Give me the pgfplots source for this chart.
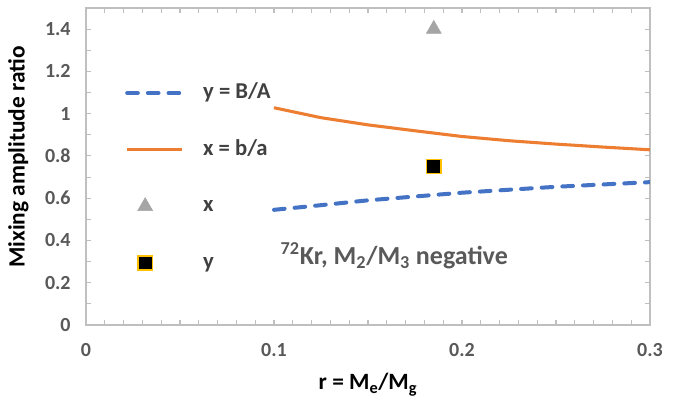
\documentclass[border=0pt]{standalone}
\usepackage{pgfplots}
\pgfplotsset{compat=1.18}
\usepackage{fontspec}
\setmainfont{Carlito}
\definecolor{xorange}{HTML}{ED7D31}
\definecolor{yblue}{HTML}{4472C4}
\definecolor{mgray}{HTML}{A5A5A5}
\definecolor{frame}{HTML}{BFBFBF}
\definecolor{tick}{HTML}{595959}
\definecolor{legtxt}{HTML}{404040}
\definecolor{gold}{HTML}{FFC000}
\pgfplotsset{
  lineleg/.style={legend image code/.code={%
      \draw[##1, mark=none] (0pt,0pt) -- (41pt,0pt);
      \path[draw=none, fill=none] (0pt,0pt) -- (57pt,0pt);}},
  markleg/.style={legend image code/.code={%
      \path[draw=none, fill=none] (0pt,0pt) -- (57pt,0pt);
      \draw[##1] plot coordinates {(13.5pt,0pt)};}},
}
\begin{document}
\begin{tikzpicture}
\useasboundingbox (-64.5pt,-60.75pt) rectangle (450pt,243.75pt);
\begin{axis}[
    scale only axis, width=423pt, height=237.75pt,
    xmin=0, xmax=0.3, ymin=0, ymax=1.5,
    xtick={0,0.1,0.2,0.3}, ytick={0,0.2,...,1.4},
    minor x tick num=9, minor y tick num=1,
    tick align=inside, major tick length=4pt, minor tick length=4pt,
    tick style={frame, line width=0.8pt},
    axis line style={frame, line width=1.5pt},
    /pgf/number format/assume math mode=true,
    ticklabel style={font=\fontsize{15}{17}\selectfont\bfseries, text=tick},
    yticklabel style={xshift=-8pt},
    xticklabel style={yshift=-10pt},
    xlabel={r = M\textsubscript{e}/M\textsubscript{g}},
    ylabel={Mixing amplitude ratio},
    label style={font=\fontsize{17.5}{19}\selectfont\bfseries, text=black},
    xlabel style={at={(axis description cs:0.5,-0.189)}, anchor=center},
    ylabel style={at={(axis description cs:-0.12,0.53)}, anchor=center},
    legend style={at={(axis description cs:0.069,0.762)}, anchor=north west,
        draw=none, fill=none, inner sep=0pt, row sep=28.5pt,
        font=\fontsize{17}{19}\selectfont\bfseries, text=legtxt,
        nodes={text height=11pt, text depth=3pt, inner sep=0pt}},
    legend cell align=left,
]
\addplot[yblue, line width=3pt, line cap=round, dash pattern=on 8pt off 7.5pt, mark=none, lineleg]
    coordinates {(0.1,0.545) (0.125,0.567) (0.15,0.590) (0.175,0.608) (0.2,0.626)
                 (0.225,0.640) (0.25,0.654) (0.275,0.665) (0.3,0.676)};
\addlegendentry{y = B/A}
\addplot[xorange, line width=2.3pt, mark=none, lineleg]
    coordinates {(0.1,1.028) (0.125,0.981) (0.15,0.947) (0.175,0.919) (0.2,0.892)
                 (0.225,0.872) (0.25,0.856) (0.275,0.842) (0.3,0.829)};
\addlegendentry{x = b/a}
\addplot[only marks, mark=triangle*, mark size=6.5pt, mgray, mark options={fill=mgray, draw=mgray}, markleg]
    coordinates {(0.185,1.40)};
\addlegendentry{x}
\addplot[only marks, mark=square*, mark size=5.3pt, mark options={fill=black, draw=gold, line width=1pt}, markleg]
    coordinates {(0.185,0.75)};
\addlegendentry{y}
\node[text=tick, font=\fontsize{19.5}{21}\selectfont\bfseries] at (axis cs:0.164,0.33)
    {\textsuperscript{72}Kr, M\textsubscript{2}/M\textsubscript{3} negative};
\end{axis}
\end{tikzpicture}
\end{document}
